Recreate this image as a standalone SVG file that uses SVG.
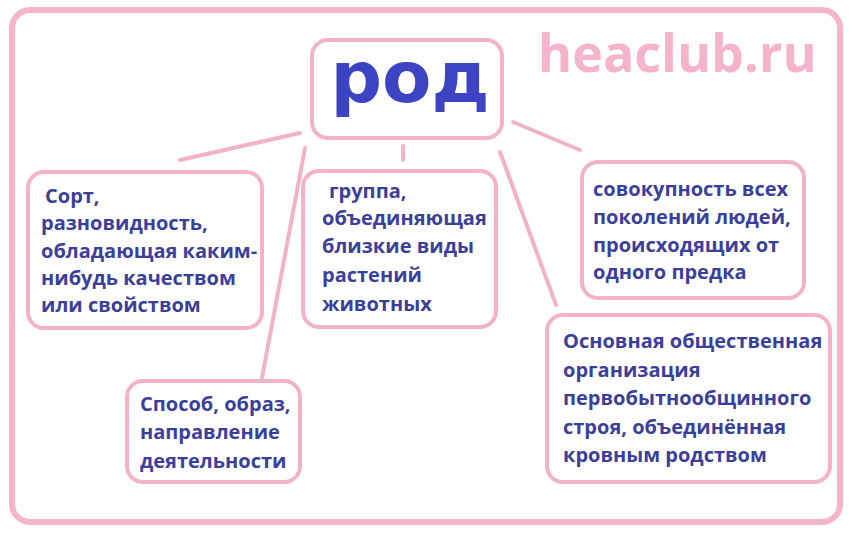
<svg xmlns="http://www.w3.org/2000/svg" width="849" height="535" viewBox="0 0 849 535">
<style>
.box{fill:#ffffff;stroke:#f2b3c8;stroke-width:4}
.con{stroke:#f2b3c8;stroke-width:4;stroke-linecap:round;fill:none}
.t{font-family:"Open Sans","DejaVu Sans",sans-serif;font-weight:700;font-size:20px;fill:#3b3f9c}
</style>
<rect x="0" y="0" width="849" height="535" fill="#ffffff"/>
<rect id="frame" x="12" y="10" width="828" height="512" rx="18" fill="#ffffff" stroke="#f4b4c9" stroke-width="6"/>
<text id="watermark" x="538" y="72" font-family="'Open Sans',sans-serif" font-weight="700" font-size="52" fill="#f5b3cc">heaclub.ru</text>
<g id="connectors">
<line class="con" x1="300" y1="133" x2="180" y2="160"/>
<line class="con" x1="305" y1="148" x2="262" y2="378"/>
<line class="con" x1="403" y1="146" x2="403" y2="160"/>
<line class="con" x1="500" y1="152" x2="556" y2="305"/>
<line class="con" x1="513" y1="122" x2="580" y2="150"/>
</g>
<g id="root">
<rect class="box" x="312" y="40" width="190" height="98" rx="16"/>
<text x="410" y="102" text-anchor="middle" font-family="'DejaVu Sans',sans-serif" font-weight="700" font-size="72" fill="#3d44c4">род</text>
</g>
<g id="n1">
<rect class="box" x="28" y="172" width="234" height="156" rx="16"/>
<text class="t" x="45" y="203">Сорт,</text>
<text class="t" x="41" y="230">разновидность,</text>
<text class="t" x="41" y="258">обладающая каким-</text>
<text class="t" x="41" y="285">нибудь качеством</text>
<text class="t" x="41" y="312">или свойством</text>
</g>
<g id="n2">
<rect class="box" x="303" y="171" width="193" height="156" rx="16"/>
<text class="t" x="329" y="198">группа,</text>
<text class="t" x="322" y="225">объединяющая</text>
<text class="t" x="322" y="253">близкие виды</text>
<text class="t" x="322" y="282">растений</text>
<text class="t" x="322" y="311">животных</text>
</g>
<g id="n3">
<rect class="box" x="582" y="162" width="222" height="136" rx="16"/>
<text class="t" x="593" y="196">совокупность всех</text>
<text class="t" x="593" y="224">поколений людей,</text>
<text class="t" x="593" y="252">происходящих от</text>
<text class="t" x="593" y="279">одного предка</text>
</g>
<g id="n4">
<rect class="box" x="547" y="315" width="283" height="167" rx="16"/>
<text class="t" x="563" y="348">Основная общественная</text>
<text class="t" x="563" y="377">организация</text>
<text class="t" x="563" y="405">первобытнообщинного</text>
<text class="t" x="563" y="434">строя, объединённая</text>
<text class="t" x="563" y="462">кровным родством</text>
</g>
<g id="n5">
<rect class="box" x="127" y="381" width="173" height="101" rx="16"/>
<text class="t" x="140" y="411">Способ, образ,</text>
<text class="t" x="140" y="439">направление</text>
<text class="t" x="140" y="468">деятельности</text>
</g>
</svg>
